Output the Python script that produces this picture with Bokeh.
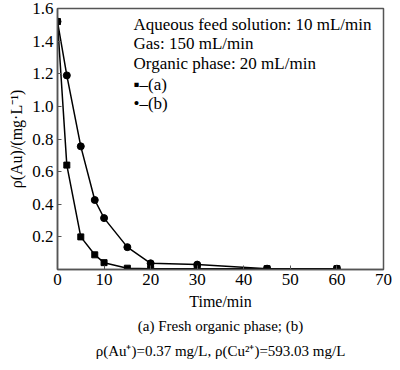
from bokeh.plotting import figure
from bokeh.models import Label, FixedTicker, PrintfTickFormatter, Title
from bokeh.embed import file_html
from bokeh.resources import INLINE

# ---- data ----
time_a = [0, 2, 5, 8, 10, 15, 20, 30, 45, 60]
rho_a = [1.52, 0.64, 0.20, 0.09, 0.042, 0.008, 0.005, 0.005, 0.005, 0.005]
time_b = [0, 2, 5, 8, 10, 15, 20, 30, 45, 60]
rho_b = [1.52, 1.19, 0.755, 0.426, 0.315, 0.137, 0.038, 0.03, 0.005, 0.005]
x_ticks = [0, 10, 20, 30, 40, 50, 60, 70]
y_ticks = [0.2, 0.4, 0.6, 0.8, 1.0, 1.2, 1.4, 1.6]
legend_lines = ["Aqueous feed solution: 10 mL/min", "Gas: 150 mL/min", "Organic phase: 20 mL/min"]
caption_1 = "(a) Fresh organic phase; (b)"
caption_2 = "\u03c1(Au\u207a)=0.37 mg/L, \u03c1(Cu\u00b2\u207a)=593.03 mg/L"

FONT = "Liberation Serif"
FRAME_COL = "#555555"
BOTTOM = 269  # frame bottom in canvas pixels

p = figure(width=392, height=362, x_range=(0, 70), y_range=(0, 1.6),
           output_backend="svg", toolbar_location=None,
           min_border_left=57, min_border_right=9, min_border_top=8,
           min_border_bottom=362 - BOTTOM)
p.grid.visible = False
p.outline_line_color = FRAME_COL
p.outline_line_width = 1.5

for ax in (p.xaxis[0], p.yaxis[0]):
    ax.axis_line_color = FRAME_COL
    ax.axis_line_width = 1.5
    ax.major_tick_in = 4
    ax.major_tick_out = 0
    ax.major_tick_line_color = FRAME_COL
    ax.minor_tick_line_color = None
    ax.major_label_text_font = FONT
    ax.major_label_text_font_size = "17px"
    ax.major_label_text_color = "black"
    ax.axis_label_text_font = FONT
    ax.axis_label_text_font_size = "16px"
    ax.axis_label_text_font_style = "normal"
    ax.axis_label_text_color = "black"

p.xaxis.ticker = FixedTicker(ticks=x_ticks)
p.yaxis.ticker = FixedTicker(ticks=y_ticks)
p.xaxis.formatter = PrintfTickFormatter(format="%d")
p.yaxis.formatter = PrintfTickFormatter(format="%.1f")
p.xaxis.major_label_standoff = 4
p.yaxis.major_label_standoff = 4
p.xaxis.axis_label = "Time/min"
p.xaxis.axis_label_standoff = 5
p.yaxis.axis_label = "\u03c1(Au)/(mg\u00b7L\u207b\u00b9)"
p.yaxis.axis_label_standoff = 4

# series
p.line(time_b, rho_b, line_color="black", line_width=1.5)
p.scatter(time_b, rho_b, marker="circle", size=7, fill_color="black", line_color="black")
p.line(time_a, rho_a, line_color="black", line_width=1.5)
p.scatter(time_a, rho_a, marker="square", size=6, fill_color="black", line_color="black")

def lab(text, x, y, size="17px"):
    p.add_layout(Label(x=x, y=y, x_units="screen", y_units="screen", text=text,
                       text_font=FONT, text_font_size=size,
                       text_align="left", text_baseline="middle",
                       text_color="black"))

# legend block (screen coords relative to frame bottom-left)
for t, y in zip(legend_lines, [24, 43, 63]):
    lab(t, 133 - 57, BOTTOM - y)
lab("\u25aa\u2013(a)", 133 - 57, BOTTOM - 84)
lab("\u2022\u2013(b)", 133 - 57, BOTTOM - 103)

# captions below the chart
for txt, so in ((caption_1, 6), (caption_2, 8)):
    p.add_layout(Title(text=txt, align="center", offset=-23, text_font=FONT,
                       text_font_size="15px", text_font_style="normal",
                       text_color="black", standoff=so), "below")

open("out.html", "w").write(file_html(p, INLINE))
